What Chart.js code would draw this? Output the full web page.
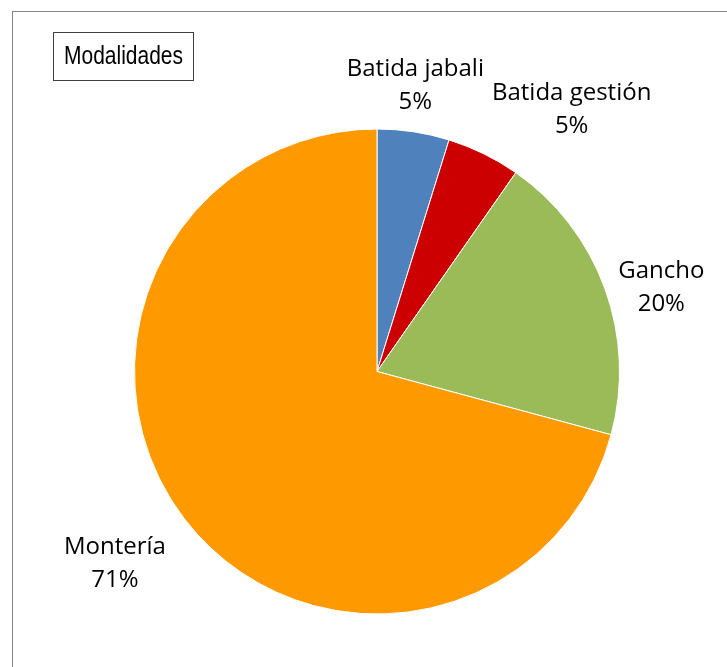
<!DOCTYPE html>
<html><head><meta charset="utf-8">
<script src="https://cdn.jsdelivr.net/npm/chart.js@4/dist/chart.umd.min.js"></script>
<style>html,body{margin:0;padding:0;background:#fff}#wrap{width:727px;height:667px;position:relative}</style>
</head><body><div id="wrap"><canvas id="c" width="727" height="667"></canvas></div>
<script>
const categories = ["Batida jabali", "Batida gestión", "Gancho", "Montería"];
const values = [4.8, 4.9, 19.5, 70.8];
const percentLabels = ["5%", "5%", "20%", "71%"];
const colors = ["#4F81BD", "#CC0000", "#9BBB59", "#FF9900"];
const title = "Modalidades";

const labelFont = '24px "Open Sans", "Liberation Sans", sans-serif';
const labelPlacement = [ {extra: 46, dAng: -1}, {extra: 84, dAng: 10.5}, {extra: 54, dAng: 3.5}, {extra: 82, dAng: 1.3} ];

const decor = {
  id: 'decor',
  afterDraw(chart) {
    const ctx = chart.ctx;
    ctx.save();
    ctx.strokeStyle = '#868686'; ctx.lineWidth = 1;
    ctx.strokeRect(12.5, 11.5, 900, 900);
    ctx.strokeStyle = '#404040';
    ctx.strokeRect(53.5, 32.5, 140, 48);
    ctx.fillStyle = '#000';
    ctx.textAlign = 'center'; ctx.textBaseline = 'middle';
    ctx.save();
    ctx.translate(123.5, 57);
    ctx.scale(0.84, 1);
    ctx.font = '25px "Liberation Sans Narrow", "Liberation Sans", sans-serif';
    ctx.fillText(title, 0, 0);
    ctx.restore();
    const meta = chart.getDatasetMeta(0);
    ctx.font = labelFont;
    meta.data.forEach((arc, i) => {
      const p = labelPlacement[i];
      const mid = (arc.startAngle + arc.endAngle) / 2 + p.dAng * Math.PI / 180;
      const r = arc.outerRadius + p.extra;
      const x = arc.x + Math.cos(mid) * r;
      const y = arc.y + Math.sin(mid) * r;
      ctx.fillText(categories[i], x, y - 16);
      ctx.fillText(percentLabels[i], x, y + 17);
    });
    ctx.restore();
  }
};

new Chart(document.getElementById('c'), {
  type: 'pie',
  data: { labels: categories, datasets: [{ data: values, backgroundColor: colors, borderColor: '#ffffff', borderWidth: 1 }] },
  options: {
    responsive: false, animation: false,
    layout: { padding: { left: 134, right: 107, top: 128, bottom: 52 } },
    plugins: { legend: { display: false }, tooltip: { enabled: false } }
  },
  plugins: [decor]
});
</script></body></html>
